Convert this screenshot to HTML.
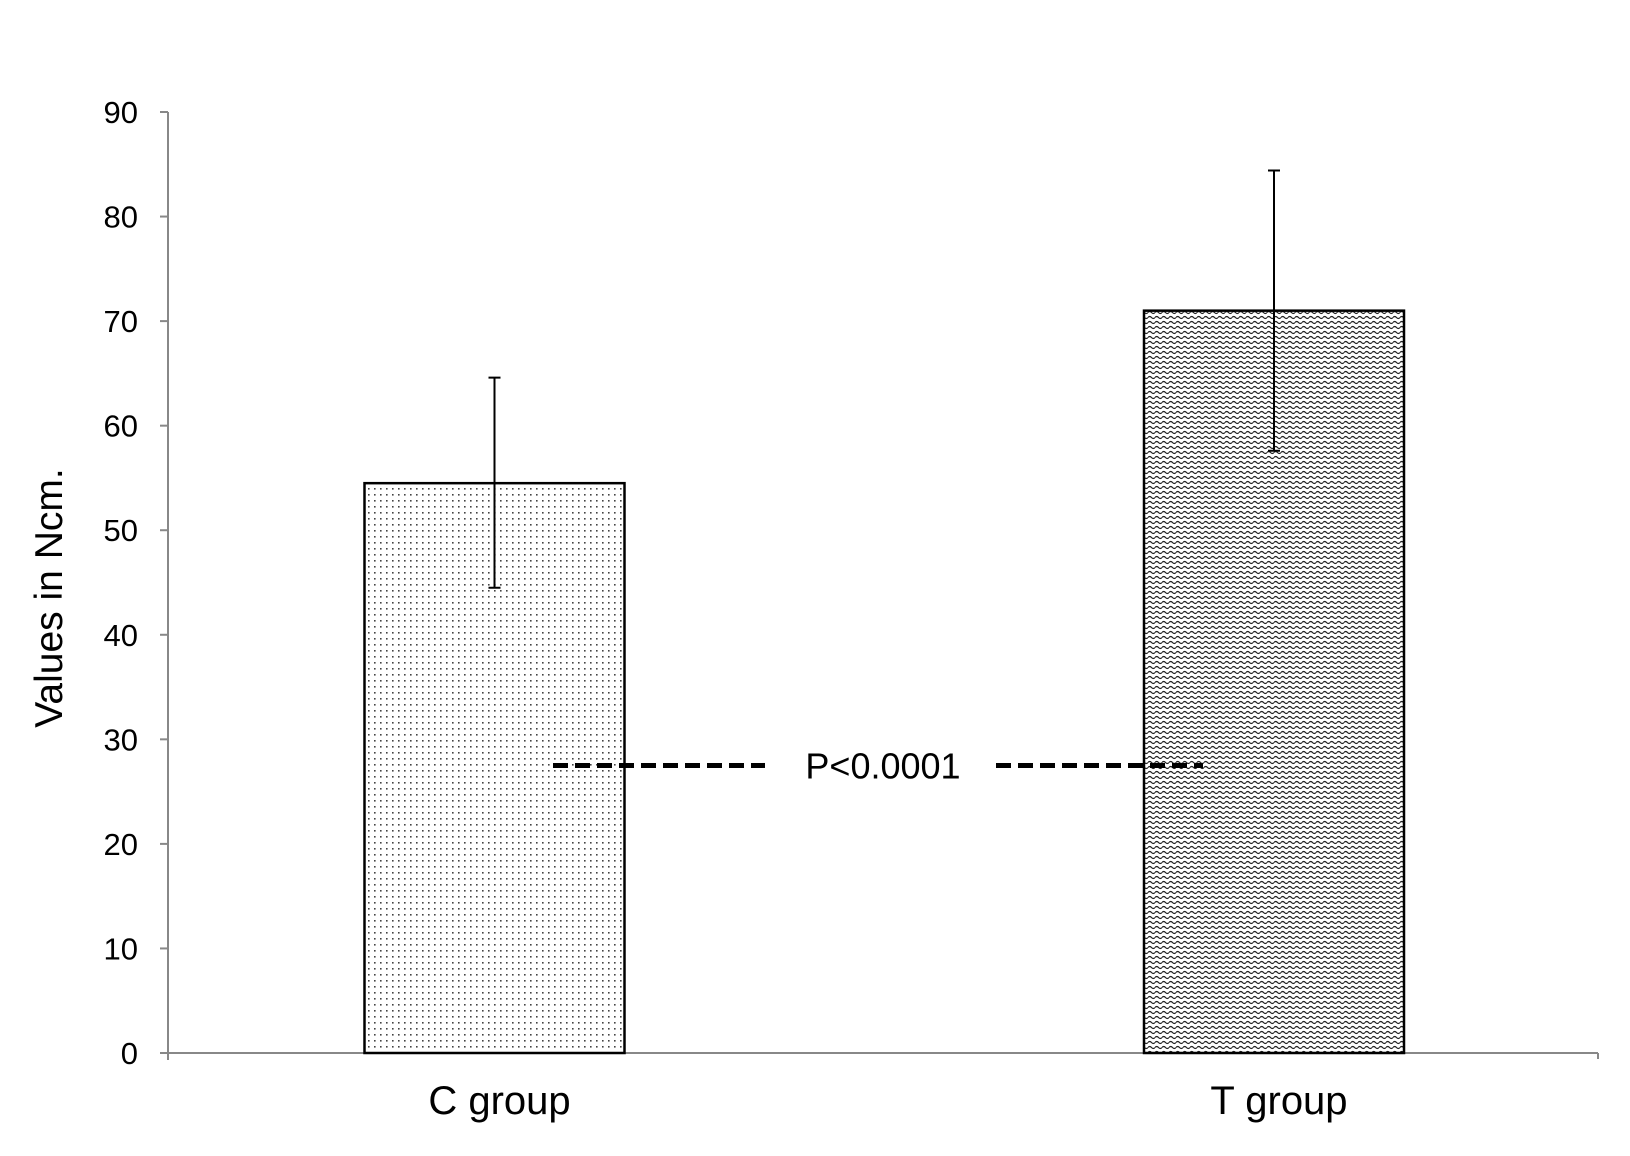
<!DOCTYPE html>
<html><head><meta charset="utf-8"><style>
html,body{margin:0;padding:0;background:#fff;}
svg{display:block;}
text{font-family:"Liberation Sans",sans-serif;fill:#000;}
</style></head><body>
<svg id="chart" width="1630" height="1156" viewBox="0 0 1630 1156" xmlns="http://www.w3.org/2000/svg">
<defs>
<pattern id="dots" width="6" height="6" patternUnits="userSpaceOnUse">
<rect width="6" height="6" fill="#fff"/><rect x="2" y="2" width="1.6" height="1.6" fill="#444"/>
</pattern>
<pattern id="waves" width="7" height="5" patternUnits="userSpaceOnUse">
<rect width="7" height="5" fill="#fff"/><path d="M0 2.5 Q1.75 0.5 3.5 2.5 T7 2.5" stroke="#222" stroke-width="1.2" fill="none"/>
</pattern>
</defs>
<g id="axes"></g>
<g id="bars"></g>
<text transform="translate(62,598) rotate(-90)" text-anchor="middle" font-size="39">Values in Ncm.</text>
</svg>
<script>
const categories = ["C group", "T group"];
const means = [54.5, 71];
const errLow = [44.5, 57.6];
const errHigh = [64.6, 84.4];
const yTicks = [0,10,20,30,40,50,60,70,80,90];
const pValueLabel = "P<0.0001";
const pLineValue = 27.5;

const NS = "http://www.w3.org/2000/svg";
const x0 = 168, x1 = 1598, y0 = 1053, yTop = 112, yMax = 90;
const y = v => y0 - (v / yMax) * (y0 - yTop);
const barW = 260;
const centers = [494.5, 1274];
function mk(tag, attrs, parent) {
  const e = document.createElementNS(NS, tag);
  for (const k in attrs) e.setAttribute(k, attrs[k]);
  parent.appendChild(e); return e;
}
const axes = document.getElementById('axes');
const bars = document.getElementById('bars');

const yl = mk('line', {x1:x0, y1:yTop, x2:x0, y2:y0+7, stroke:'#888', 'stroke-width':2}, axes);


const xl = mk('line', {x1:x0-8, y1:y0, x2:x1, y2:y0, stroke:'#888', 'stroke-width':2}, axes);


mk('line', {x1:x1, y1:y0, x2:x1, y2:y0+6, stroke:'#888', 'stroke-width':2}, axes);

yTicks.forEach(t => {
  const tk = mk('line', {x1:x0-8, y1:y(t), x2:x0, y2:y(t), stroke:'#888', 'stroke-width':2}, axes);
  
  
  const lb = mk('text', {x:x0-30, y:y(t)+11, 'text-anchor':'end', 'font-size':31}, axes);
  lb.textContent = t;
  
  
});

categories.forEach((c, i) => {
  const xc = centers[i];
  const r = mk('rect', {x:xc-barW/2, y:y(means[i]), width:barW, height:y0-y(means[i]), fill: i===0?'url(#dots)':'url(#waves)', stroke:'#000', 'stroke-width':2.5}, bars);
  
  
  const e = mk('path', {d:`M${xc-6} ${y(errHigh[i])}H${xc+6}M${xc} ${y(errHigh[i])}V${y(errLow[i])}M${xc-6} ${y(errLow[i])}H${xc+6}`, stroke:'#000', 'stroke-width':2, fill:'none'}, bars);
  
  
  const lb = mk('text', {x:xc+5, y:1114, 'text-anchor':'middle', 'font-size':40}, bars);
  lb.textContent = c;
  
  
});

const py = y(pLineValue);
const d1 = mk('line', {x1:553, y1:py, x2:765, y2:py, stroke:'#000', 'stroke-width':5, 'stroke-dasharray':'15 7'}, bars);


const d2 = mk('line', {x1:996, y1:py, x2:1203, y2:py, stroke:'#000', 'stroke-width':5, 'stroke-dasharray':'15 7'}, bars);


const pt = mk('text', {x:883, y:py+13, 'text-anchor':'middle', 'font-size':36}, bars);
pt.textContent = pValueLabel;


</script>
</body></html>
